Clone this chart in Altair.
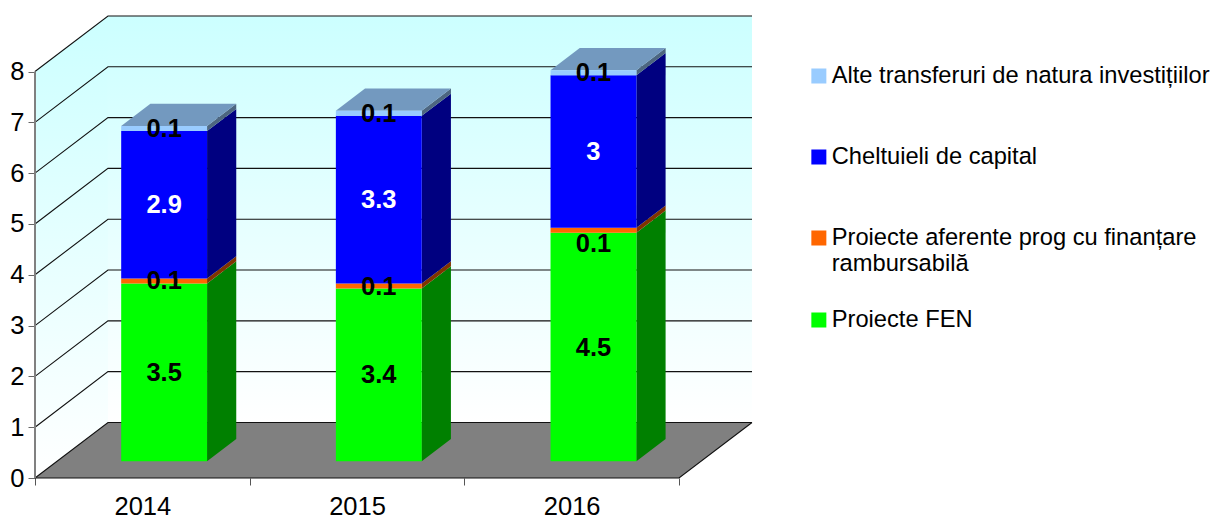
import altair as alt
import pandas as pd

years = ["2014", "2015", "2016"]
series = ["Proiecte FEN", "Proiecte aferente prog cu finanțare rambursabilă",
          "Cheltuieli de capital", "Alte transferuri de natura investițiilor"]
fen = [3.5, 3.4, 4.5]
rambursabile = [0.1, 0.1, 0.1]
capital = [2.9, 3.3, 3.0]
alte = [0.1, 0.1, 0.1]
all_values = [fen, rambursabile, capital, alte]
legend_order = series[::-1]
front_colors = ["#00FF00", "#FF6600", "#0000FF", "#99CCFF"]
side_colors = ["#008000", "#803300", "#000080", "#4D6680"]
top_color = "#7399BF"
label_colors = ["black", "black", "white", "black"]
y_ticks = list(range(9))

# Oblique projection of the 3D box, expressed in the units of the two axes
DX = 0.34
DY = 1.0936
XMAX = 3 + DX
YMAX = 8 + DY
GAP = 0.2995
BAR = 0.4
D0, D1 = 0.3, 0.7
LABEL_MOVED = {(2, 1): -0.27}  # the 2016 "0.1" sits below its thin band


def proj(x, y, d):
    return x + d * DX, y + d * DY


def flat_face(x0, x1, y, d0, d1, key, fill=None):
    """parallelogram lying flat in the depth direction, as an area"""
    ax, ay = proj(x0, y, d0)
    bx, by = proj(x0, y, d1)
    cx, _ = proj(x1, y, d0)
    dx, _ = proj(x1, y, d1)
    return [
        dict(key=key, fill=fill, x=ax, lo=ay, hi=ay),
        dict(key=key, fill=fill, x=bx, lo=ay, hi=by),
        dict(key=key, fill=fill, x=cx, lo=ay, hi=by),
        dict(key=key, fill=fill, x=dx, lo=by, hi=by),
    ]


front, side, top_rows, labels = [], [], [], []
for i, year in enumerate(years):
    x0 = i + GAP + D0 * DX
    x1 = x0 + BAR
    base = D0 * DY
    total = 0
    for s, name in enumerate(series):
        v = all_values[s][i]
        front.append(dict(series=name, x=x0, x2=x1, y=base, y2=base + v))
        labels.append(dict(x=(x0 + x1) / 2, y=base + v / 2 + LABEL_MOVED.get((i, s), 0),
                           v=f"{v:g}", c=label_colors[s]))
        k = f"{year}-{s}"
        sx1 = x1 + (D1 - D0) * DX
        side.append(dict(key=k, fill=side_colors[s], x=x1, lo=base, hi=base + v))
        side.append(dict(key=k, fill=side_colors[s], x=sx1, lo=base + (D1 - D0) * DY,
                         hi=base + v + (D1 - D0) * DY))
        base += v
        total += v
    top_rows += flat_face(i + GAP, i + GAP + BAR, total, D0, D1, year, top_color)

x_scale = alt.Scale(domain=[0, XMAX], nice=False, zero=False)
y_scale = alt.Scale(domain=[0, YMAX], nice=False, zero=False)
X = lambda **k: alt.X("x:Q", scale=x_scale, **k)
Y = lambda **k: alt.Y("lo:Q", scale=y_scale, **k)

wall_grad = alt.Gradient(gradient="linear", x1=0, x2=0, y1=0, y2=1,
                         stops=[alt.GradientStop(offset=0, color="#CCFFFF"),
                                alt.GradientStop(offset=1, color="#FFFFFF")])

x_axis = alt.Axis(
    values=[0, 0.5, 1, 1.5, 2, 2.5, 3], title=None, grid=False, domain=False,
    labelExpr="datum.value % 1 === 0 ? '' : ['2014','2015','2016'][floor(datum.value)]",
    tickSize=7, tickColor="#555555", labelFontSize=25.5, labelFont="Liberation Sans",
    labelColor="#000000", labelPadding=9, labelOverlap=False, labelFlush=False,
    tickOpacity={"condition": {"test": "datum.value % 1 === 0", "value": 1}, "value": 0},
)
y_axis = alt.Axis(values=y_ticks, title=None, grid=False, domain=False, tickSize=7,
                  tickColor="#666666", labelFontSize=25.5, labelFont="Liberation Sans",
                  labelColor="#000000", labelPadding=4, format="d")

# walls
back_wall = pd.DataFrame([dict(x=DX, lo=DY, hi=YMAX), dict(x=XMAX, lo=DY, hi=YMAX)])
side_wall = pd.DataFrame([dict(x=0, lo=0, hi=8), dict(x=DX, lo=DY, hi=YMAX)])
wall_layers = [
    alt.Chart(d).mark_area(color=wall_grad, line=False).encode(
        x=X(axis=x_axis), y=Y(axis=y_axis), y2="hi:Q")
    for d in (back_wall, side_wall)
]

# floor
floor = alt.Chart(pd.DataFrame(flat_face(0, 3, 0, 0, 1, "floor", "#808080"))).mark_area(
    color="#808080", line=False).encode(x=X(), y=Y(), y2="hi:Q")

# grid lines on the walls plus the floor edges
lines = []
for v in y_ticks:
    lines.append(dict(k=f"g{v}", o=0, x=0, lo=v))
    lines.append(dict(k=f"g{v}", o=1, x=DX, lo=v + DY))
    lines.append(dict(k=f"g{v}", o=2, x=XMAX, lo=v + DY))
lines += [dict(k="f", o=0, x=0, lo=0), dict(k="f", o=1, x=3, lo=0), dict(k="f", o=2, x=XMAX, lo=DY)]
grid = alt.Chart(pd.DataFrame(lines)).mark_line(color="#111111", strokeWidth=1.1).encode(
    x=X(), y=Y(), detail="k:N", order="o:Q")

axis_line = alt.Chart(pd.DataFrame([dict(x=0, lo=0, hi=8)])).mark_rule(
    color="#808080", strokeWidth=2).encode(x=X(), y=Y(), y2="hi:Q")

sides = alt.Chart(pd.DataFrame(side)).mark_area(line=False).encode(
    x=X(), y=Y(), y2="hi:Q", detail="key:N", fill=alt.Fill("fill:N", scale=None))
tops = alt.Chart(pd.DataFrame(top_rows)).mark_area(line=False).encode(
    x=X(), y=Y(), y2="hi:Q", detail="key:N", fill=alt.Fill("fill:N", scale=None))

fronts = alt.Chart(pd.DataFrame(front)).mark_rect().encode(
    x=alt.X("x:Q", scale=x_scale), x2="x2:Q",
    y=alt.Y("y:Q", scale=y_scale), y2="y2:Q",
    color=alt.Color(
        "series:N",
        scale=alt.Scale(domain=legend_order, range=front_colors[::-1]),
        sort=legend_order,
        legend=alt.Legend(
            title=None, orient="none", legendX=772, legendY=23,
            symbolType="square", symbolSize=225, symbolStrokeWidth=0,
            symbolOpacity=1, labelFontSize=23.7, labelFont="Liberation Sans",
            labelColor="#000000", labelLimit=500, labelOffset=1,
            clipHeight=74, rowPadding=7,
            labelExpr="split(replace(datum.label, 'finanțare ', 'finanțare|'), '|')",
        ),
    ),
)

texts = alt.Chart(pd.DataFrame(labels)).mark_text(
    font="Liberation Sans", fontSize=25.5, fontWeight="bold", baseline="middle",
    align="center", dy=0.5
).encode(x=alt.X("x:Q", scale=x_scale), y=alt.Y("y:Q", scale=y_scale),
         text="v:N", color=alt.Color("c:N", scale=None))

chart = alt.layer(*wall_layers, floor, grid, axis_line, sides, tops, fronts, texts).properties(
    width=717, height=462,
    padding={"left": 27, "top": 8, "right": 459, "bottom": 37},
    autosize=alt.AutoSizeParams(type="none"),
).configure_view(stroke=None)

chart.save("out.html", embed_options={"renderer": "svg", "actions": False})
